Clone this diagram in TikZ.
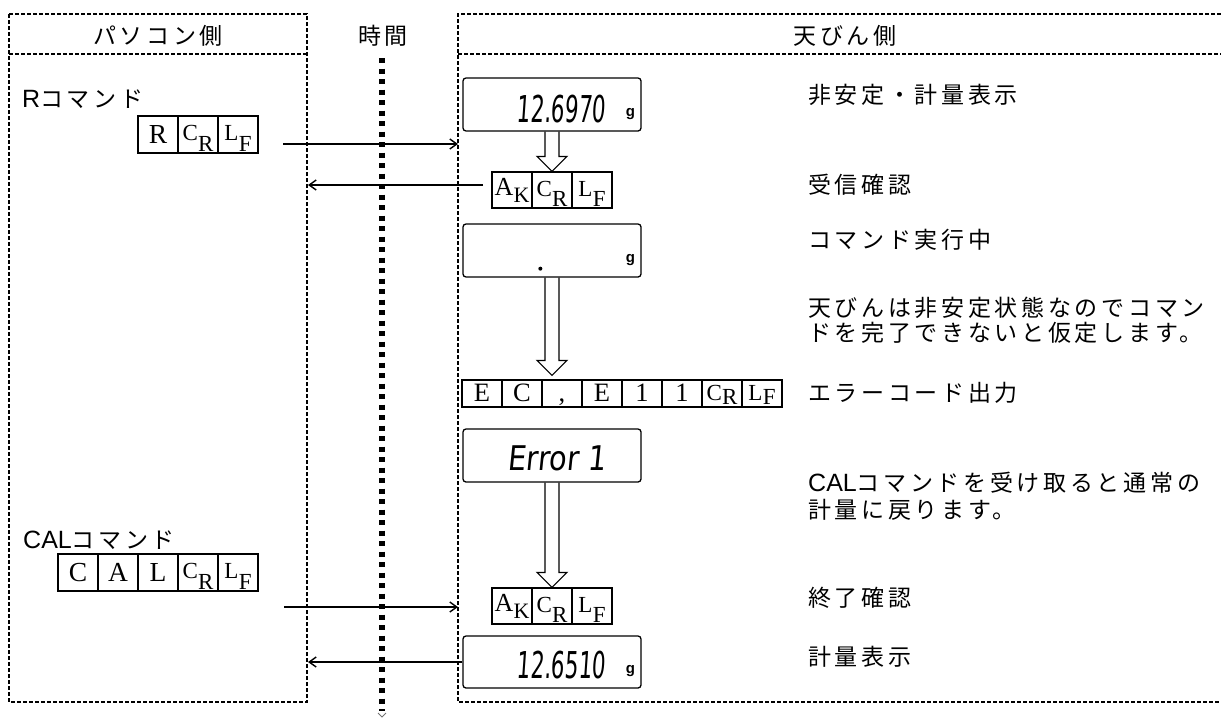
\documentclass[tikz,border=0pt]{standalone}
\usepackage{fontspec}
\usepackage{graphicx}
\setmainfont{Liberation Serif}
\newfontfamily\jp{Noto Sans CJK JP}[LetterSpace=16]
\newfontfamily\ar{Liberation Sans}
\newfontfamily\seg{DejaVu Sans}[FakeSlant=0.12]
\usetikzlibrary{arrows.meta,calc}

\newcommand{\jl}{\fontsize{23}{25}\selectfont\jp}
\newcommand{\arl}{\ar\fontsize{25}{25}\selectfont}
\newcommand{\one}[1]{\raisebox{-8.5pt}{\fontsize{27.5}{27.5}\selectfont #1}}
\newcommand{\two}[2]{\raisebox{-6pt}{\fontsize{23}{23}\selectfont #1}\kern0.3pt\raisebox{-16.5pt}{\fontsize{23}{23}\selectfont #2}}
\newcommand{\twoA}[2]{\raisebox{-5pt}{\fontsize{26}{26}\selectfont #1}\kern0.3pt\raisebox{-12.5pt}{\fontsize{22}{22}\selectfont #2}}
\newcommand{\ones}[1]{\raisebox{-8pt}{\fontsize{26.5}{26.5}\selectfont #1}}
\newcommand{\twos}[2]{\raisebox{-6.5pt}{\fontsize{23}{23}\selectfont #1}\kern0.3pt\raisebox{-10.5pt}{\fontsize{23}{23}\selectfont #2}}
\newcommand{\digs}[1]{\scalebox{0.58}[1]{\seg\fontsize{37}{37}\selectfont #1}}
\newcommand{\gunit}{\ar\bfseries\fontsize{15}{15}\selectfont g}

\begin{document}
\begin{tikzpicture}[x=1pt,y=-1pt,
  panel/.style={line width=1.6pt, dash pattern=on 4pt off 2pt},
  cell/.style={draw, line width=1.1pt, minimum width=40pt, minimum height=37pt, inner sep=0pt, text height=0pt, text depth=0pt},
  ecell/.style={cell, minimum height=27pt},
  disp/.style={draw, line width=1.3pt, rounded corners=3pt, minimum width=178pt, minimum height=53pt, inner sep=0pt},
  msg/.style={line width=2.2pt, -{Straight Barb[length=7pt,width=10pt,line width=1.4pt]}},
  hollow/.style={line width=1.1pt, to path={let \p1=(\tikztostart), \p2=(\tikztotarget) in
     (\x1-7pt,\y1) -- (\x1-7pt,\y2+15pt) -- (\x1-15pt,\y2+15pt) -- (\x1,\y2) -- (\x1+15pt,\y2+15pt) -- (\x1+7pt,\y2+15pt) -- (\x1+7pt,\y1)}},
  lab/.style={anchor=west, inner sep=0pt, font=\jl, align=left},
  head/.style={inner sep=0pt, font=\jl},
  timeline/.style={line width=5.5pt, dash pattern=on 5pt off 5.5pt},
  txt/.style={inner sep=0pt}
]
\useasboundingbox (0,0) rectangle (1221,718);

% panels
\draw[panel] (9,14) rectangle (307,702);
\draw[panel] (9,54) -- (307,54);
\draw[panel] (1221,14) -- (458,14) -- (458,702) -- (1221,702);
\draw[panel] (458,54) -- (1221,54);

% headers
\node[head] (hpc) at (158,36) {パソコン側};
\node[head] (htime) at (383,36) {時間};
\node[head] (hbal) at (845,36) {天びん側};

% time line
\coordinate (tt) at (382,58);
\coordinate (tb) at (382,711);
\coordinate (tv) at (382,717);
\draw[timeline] (tt) -- (tb);
\draw[line width=0.9pt, black!55] ($(tv)+(-4,-4)$) -- (tv) -- ($(tv)+(4,-4)$);

% PC side
\node[lab] (lr) at (22,99) {{\arl R}コマンド};
\node[cell] (r1) at (158,134.5) {\one{R}};
\node[cell] (r2) at (198,134.5) {\two{C}{R}};
\node[cell] (r3) at (238,134.5) {\two{L}{F}};

\node[lab] (lcal) at (23,540) {{\arl CAL}コマンド};
\node[cell] (c1) at (78,572.5) {\one{C}};
\node[cell] (c2) at (118,572.5) {\one{A}};
\node[cell] (c3) at (158,572.5) {\one{L}};
\node[cell] (c4) at (198,572.5) {\two{C}{R}};
\node[cell] (c5) at (238,572.5) {\two{L}{F}};

% balance side
\node[disp] (d1) at (552,104.5) {};
\node[txt, anchor=base east] (d1t) at ($(d1.south east)+(-36,-9)$) {\digs{12.6970}};
\node[txt, anchor=base west] (d1g) at ($(d1.south east)+(-16,-15.5)$) {\gunit};

\node[cell, minimum height=36pt] (a1) at (512,190) {\twoA{A}{K}};
\node[cell, minimum height=36pt] (a2) at (552,190) {\two{C}{R}};
\node[cell, minimum height=36pt] (a3) at (592,190) {\two{L}{F}};

\node[disp] (d2) at (552,250.5) {};
\fill ($(d2.south west)+(78,-9)$) circle (2);
\node[txt, anchor=base west] (d2g) at ($(d2.south east)+(-16,-15.5)$) {\gunit};

\node[ecell] (e1) at (482,393.5) {\ones{E}};
\node[ecell] (e2) at (522,393.5) {\ones{C}};
\node[ecell] (e3) at (562,393.5) {\ones{,}};
\node[ecell] (e4) at (602,393.5) {\ones{E}};
\node[ecell] (e5) at (642,393.5) {\ones{1}};
\node[ecell] (e6) at (682,393.5) {\ones{1}};
\node[ecell] (e7) at (722,393.5) {\twos{C}{R}};
\node[ecell] (e8) at (762,393.5) {\twos{L}{F}};

\node[disp] (d3) at (552,455.5) {};
\node[txt, anchor=base west] (d3t) at ($(d3.south west)+(45,-12)$) {\scalebox{0.85}[1]{\seg\fontsize{34}{34}\selectfont Error 1}};

\node[cell, minimum height=36pt] (k1) at (512,606) {\twoA{A}{K}};
\node[cell, minimum height=36pt] (k2) at (552,606) {\two{C}{R}};
\node[cell, minimum height=36pt] (k3) at (592,606) {\two{L}{F}};

\node[disp, minimum height=52pt] (d4) at (552,662) {};
\node[txt, anchor=base east] (d4t) at ($(d4.south east)+(-36,-10)$) {\digs{12.6510}};
\node[txt, anchor=base west] (d4g) at ($(d4.south east)+(-16,-15)$) {\gunit};

% hollow arrows
\draw[hollow] (d1.south) to (a2.north);
\draw[hollow] (d2.south) to ($(e3.north)+(0,-4)$);
\draw[hollow] (d3.south) to (k2.north);

% messages
\coordinate (m1s) at (283,144);
\coordinate (m1e) at (458,144);
\coordinate (m2s) at (483,185);
\coordinate (m2e) at (308,185);
\coordinate (m3s) at (284,607);
\coordinate (m3e) at (458,607);
\coordinate (m4e) at (308,662);
\draw[msg] (m1s) -- (m1e);
\draw[msg] (m2s) -- (m2e);
\draw[msg] (m3s) -- (m3e);
\draw[msg] (d4.west) -- (m4e);

% right labels
\node[lab] (t1) at (808,95) {非安定・計量表示};
\node[lab] (t2) at (808,185) {受信確認};
\node[lab] (t3) at (808,240) {コマンド実行中};
\node[lab] (t4) at (808,320.5) {天びんは非安定状態なのでコマン\\ドを完了できないと仮定します。};
\node[lab] (t5) at (808,393) {エラーコード出力};
\node[lab, font=\fontsize{23}{27.5}\selectfont\jp] (t6) at (808,496) {{\arl CAL}コマンドを受け取ると通常の\\計量に戻ります。};
\node[lab] (t7) at (808,598) {終了確認};
\node[lab] (t8) at (808,657) {計量表示};
\end{tikzpicture}
\end{document}
